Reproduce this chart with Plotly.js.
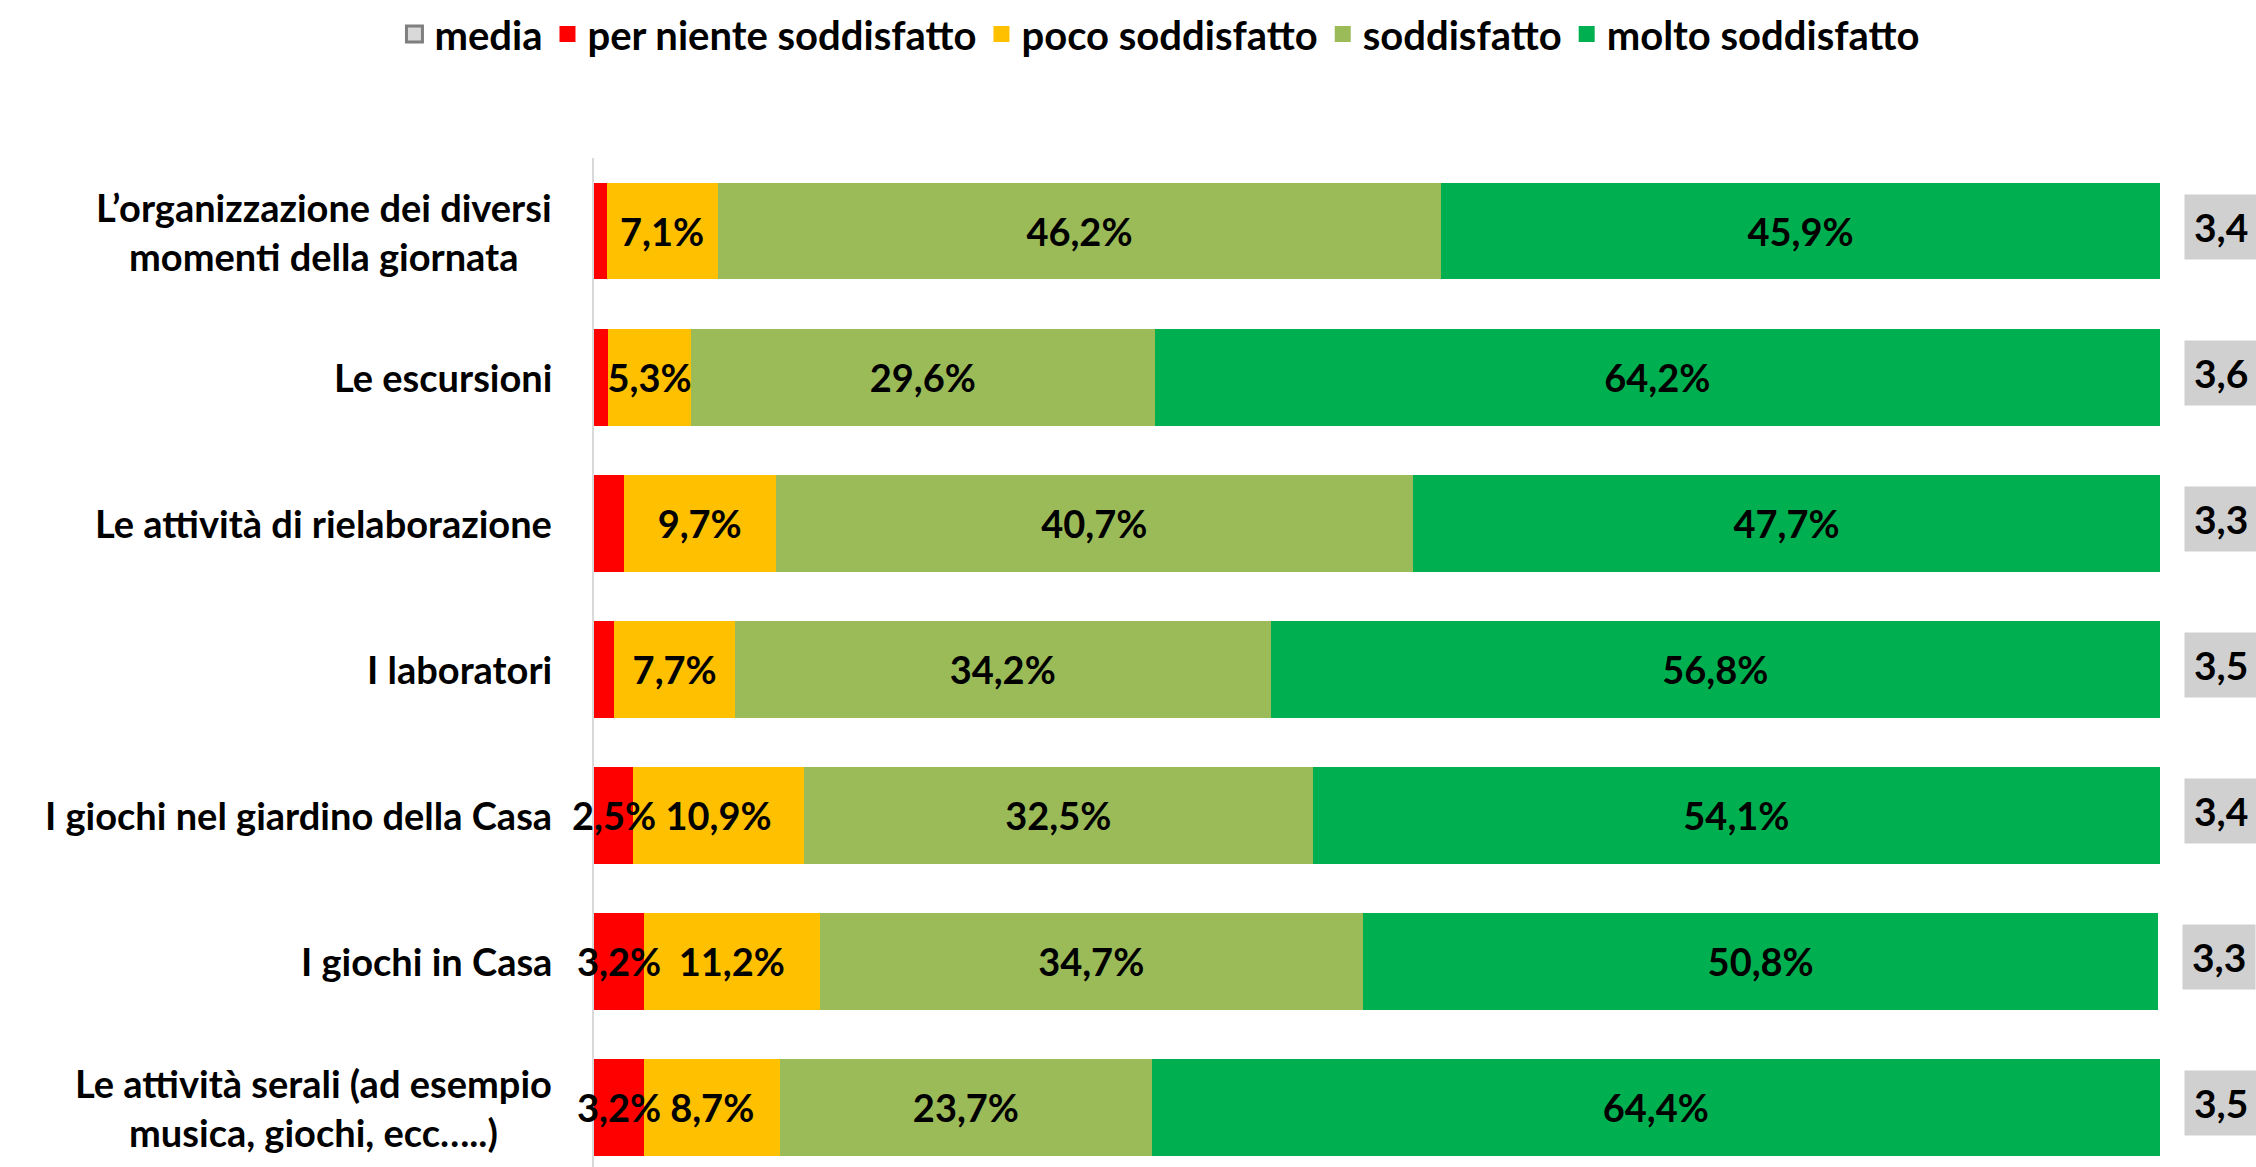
<!DOCTYPE html>
<html>
<head>
<meta charset="utf-8">
<script src="https://cdn.plot.ly/plotly-3.0.1.min.js"></script>
<style>html,body{margin:0;padding:0;background:#fff;}#chart{width:2256px;height:1167px;}</style>
</head>
<body>
<div id="chart"></div>
<script>
const categories = [
  'L’organizzazione dei diversi<br>momenti della giornata',
  'Le escursioni',
  'Le attività di rielaborazione',
  'I laboratori',
  'I giochi nel giardino della Casa',
  'I giochi in Casa',
  'Le attività serali (ad esempio<br>musica, giochi, ecc…..)'
];
const perNiente = [0.8, 0.9, 1.9, 1.3, 2.5, 3.2, 3.2];
const poco = [7.1, 5.3, 9.7, 7.7, 10.9, 11.2, 8.7];
const soddisfatto = [46.2, 29.6, 40.7, 34.2, 32.5, 34.7, 23.7];
const molto = [45.9, 64.2, 47.7, 56.8, 54.1, 50.8, 64.4];
const media = [3.4, 3.6, 3.3, 3.5, 3.4, 3.3, 3.5];
const seriesNames = ['per niente soddisfatto', 'poco soddisfatto', 'soddisfatto', 'molto soddisfatto'];
const seriesColors = ['#FF0000', '#FFC000', '#9BBB59', '#00B050'];

const FONT = 'Lato, "Open Sans", sans-serif';
const LABEL_SIZE = 38;
const fmt = v => v.toFixed(1).replace('.', ',') + '%';
const seriesValues = [perNiente, poco, soddisfatto, molto];

const traces = [];
// legend entries (larger square swatches)
traces.push({
  type: 'scatter', mode: 'markers', name: 'media',
  x: [null], y: [null],
  marker: {symbol: 'square', size: 16, color: '#D9D9D9', line: {color: '#7F7F7F', width: 3}},
  hoverinfo: 'skip'
});
seriesNames.forEach((n, i) => {
  traces.push({
    type: 'scatter', mode: 'markers', name: n,
    x: [null], y: [null],
    marker: {symbol: 'square', size: 18, color: seriesColors[i], line: {width: 0}},
    hoverinfo: 'skip'
  });
});
seriesValues.forEach((vals, i) => {
  traces.push({
    type: 'bar', orientation: 'h', name: seriesNames[i], showlegend: false,
    x: vals, y: categories,
    marker: {color: seriesColors[i], line: {width: 0}},
    text: vals.map(v => i === 0 ? '' : fmt(v)),
    texttemplate: '%{text}',
    textposition: 'inside',
    insidetextanchor: 'middle',
    textangle: 0,
    constraintext: 'none',
    cliponaxis: false,
    textfont: {family: FONT, size: LABEL_SIZE, color: '#000', weight: 'bold'},
    hoverinfo: 'x+name'
  });
});

const totals = categories.map((c, k) => seriesValues.reduce((s, arr) => s + arr[k], 0));

const annotations = [];
categories.forEach((c, k) => {
  annotations.push({
    xref: 'paper', yref: 'y', x: 0, y: c,
    xanchor: 'right', yanchor: 'middle', xshift: -40,
    text: c, showarrow: false, align: 'center',
    font: {family: FONT, size: 38, color: '#000', weight: 'bold'}
  });
  if (perNiente[k] >= 2) {
    annotations.push({
      xref: 'x', yref: 'y', x: perNiente[k] / 2, y: c,
      xanchor: 'center', yanchor: 'middle',
      text: fmt(perNiente[k]), showarrow: false,
      font: {family: FONT, size: LABEL_SIZE, color: '#000', weight: 'bold'}
    });
  }
  annotations.push({
    xref: 'x', yref: 'y', x: totals[k], y: c,
    xanchor: 'left', yanchor: 'middle', xshift: 24, yshift: 4,
    text: media[k].toFixed(1).replace('.', ','), showarrow: false,
    bgcolor: '#D0D0D0', borderpad: 9,
    font: {family: FONT, size: 39, color: '#000', weight: 'bold'}
  });
});

const layout = {
  width: 2256, height: 1167,
  margin: {l: 594, r: 96, t: 158, b: 0},
  paper_bgcolor: '#fff', plot_bgcolor: '#fff',
  barmode: 'stack', bargap: 0.336,
  separators: ',.',
  showlegend: true,
  legend: {
    orientation: 'h', x: 0.3614, xanchor: 'center', y: 1.123, yanchor: 'middle',
    traceorder: 'normal',
    font: {family: FONT, size: 40, color: '#000', weight: 'bold'},
    itemwidth: 30, itemsizing: 'trace'
  },
  uniformtext: {mode: 'show', minsize: LABEL_SIZE},
  xaxis: {range: [0, 100], showgrid: false, zeroline: false, showticklabels: false, showline: false, fixedrange: true},
  yaxis: {type: 'category', range: [6.41, -0.5], showgrid: false, zeroline: false, showticklabels: false,
          showline: true, linecolor: '#D9D9D9', linewidth: 2, ticks: ''},
  annotations: annotations
};

Plotly.newPlot('chart', traces, layout, {staticPlot: true, displayModeBar: false});
</script>
</body>
</html>
